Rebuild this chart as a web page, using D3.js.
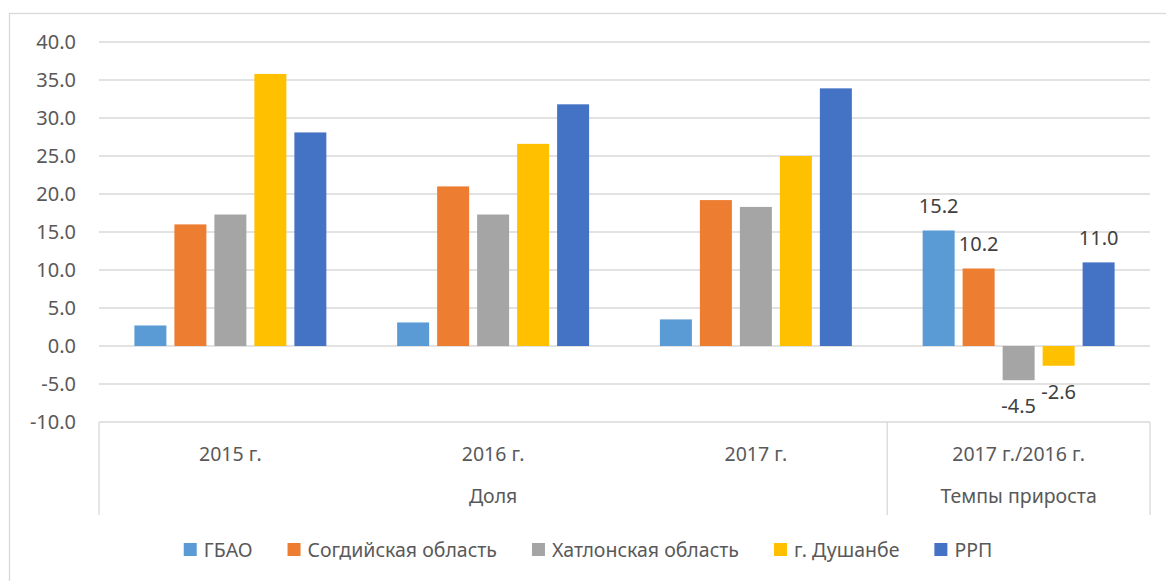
<!DOCTYPE html>
<html>
<head>
<meta charset="utf-8">
<script src="https://cdn.jsdelivr.net/npm/d3@7"></script>
<style>
    body { margin: 0; background: #fff; }
    svg text { font-family: "Noto Sans", sans-serif; }
</style>
</head>
<body>
<div id="chart"></div>
<script>

// Categories (first level) and their groups (second level).
const categories = ["2015 г.", "2016 г.", "2017 г.", "2017 г./2016 г."];
const groups = [
    {name: "Доля", from: 0, to: 2},
    {name: "Темпы прироста", from: 3, to: 3}
];

// Series.
const seriesNames = ["ГБАО", "Согдийская область", "Хатлонская область", "г. Душанбе", "РРП"];
const seriesColors = ["#5B9BD5", "#ED7D31", "#A5A5A5", "#FFC000", "#4472C4"];

// Values per series, in order of categories.
const gbao     = [2.7, 3.1, 3.5, 15.2];
const sogd     = [16.0, 21.0, 19.2, 10.2];
const khatlon  = [17.3, 17.3, 18.3, -4.5];
const dushanbe = [35.8, 26.6, 25.0, -2.6];
const rrp      = [28.1, 31.8, 33.9, 11.0];
const seriesValues = [gbao, sogd, khatlon, dushanbe, rrp];

// Only the last category has data labels.
const labelledCategory = 3;

const yTicks = [-10, -5, 0, 5, 10, 15, 20, 25, 30, 35, 40];

// Excel writes a plain hyphen, not the unicode minus d3 uses.
const fmt = d3.formatLocale({decimal: ".", thousands: ",", grouping: [3],
                             currency: ["", ""], minus: "-"}).format(".1f");

// Chart dimensions.
const width = 1166, height = 581;
const margin = {top: 42, right: 16, bottom: 159, left: 99};

const svg = d3.select("#chart")
    .append("svg")
        .attr("width", width)
        .attr("height", height);

// Chart frame
svg.append("rect")
    .attr("x", 9.5).attr("y", 13.5)
    .attr("width", 1170).attr("height", 600)
    .attr("fill", "none")
    .attr("stroke", "#D9D9D9")
    .attr("stroke-width", 1.3);

const plotRight = width - margin.right;
const plotBottom = height - margin.bottom;

// Scales
const x = d3.scaleBand()
    .domain(d3.range(categories.length))
    .range([margin.left, plotRight]);

const xSub = d3.scaleBand()
    .domain(d3.range(seriesNames.length))
    .range([0, x.bandwidth()])
    .paddingInner(0.2)
    .paddingOuter(0.885);

const y = d3.scaleLinear()
    .domain([-10, 40])
    .range([plotBottom, margin.top]);

// Gridlines (the -10 one acts as the category axis line)
svg.append("g")
    .attr("class", "grid")
    .selectAll("line")
    .data(yTicks)
    .enter()
    .append("line")
        .attr("x1", margin.left).attr("x2", plotRight)
        .attr("y1", d => y(d)).attr("y2", d => y(d))
        .attr("stroke", "#D9D9D9")
        .attr("stroke-width", 1.3);

// Y axis labels
const yAxis = d3.axisLeft(y)
    .tickValues(yTicks)
    .tickFormat(fmt)
    .tickSize(0)
    .tickPadding(23);

svg.append("g")
    .attr("class", "y axis")
    .attr("transform", "translate(" + margin.left + ",0)")
    .call(yAxis)
    .call(g => g.select(".domain").remove())
    .call(g => g.selectAll("text")
        .attr("fill", "#595959")
        .style("font-size", "20px")
        .style("font-family", "'Noto Sans', sans-serif"));

// Bars
const series = svg.selectAll("g.series")
    .data(seriesValues)
    .enter()
    .append("g")
        .attr("class", "series")
        .attr("fill", (d, i) => seriesColors[i]);

series.each(function(vals, si) {
    d3.select(this).selectAll("rect")
        .data(vals)
        .enter()
        .append("rect")
            .attr("x", (d, ci) => x(ci) + xSub(si))
            .attr("width", xSub.bandwidth())
            .attr("y", d => y(Math.max(0, d)))
            .attr("height", d => Math.abs(y(d) - y(0)));
});

// Data labels on the growth category
seriesValues.forEach(function(vals, si) {
    let v = vals[labelledCategory];
    svg.append("text")
        .attr("x", x(labelledCategory) + xSub(si) + xSub.bandwidth() / 2)
        .attr("y", v >= 0 ? y(v) - 17 : y(v) + 33)
        .attr("text-anchor", "middle")
        .attr("fill", "#404040")
        .style("font-size", "20px")
        .text(fmt(v));
});

// Multi-level category axis
const axisG = svg.append("g").attr("class", "x axis");
const sepBottom = 515;

axisG.selectAll("text.cat")
    .data(categories)
    .enter()
    .append("text")
        .attr("class", "cat")
        .attr("x", (d, i) => x(i) + x.bandwidth() / 2)
        .attr("y", 461)
        .attr("text-anchor", "middle")
        .attr("fill", "#595959")
        .style("font-size", "19.5px")
        .text(d => d);

axisG.selectAll("text.grp")
    .data(groups)
    .enter()
    .append("text")
        .attr("class", "grp")
        .attr("x", d => (x(d.from) + x(d.to) + x.bandwidth()) / 2)
        .attr("y", 503)
        .attr("text-anchor", "middle")
        .attr("fill", "#595959")
        .style("font-size", "19.5px")
        .text(d => d.name);

// Group separators
const sepX = [x(0)].concat(groups.map(g => x(g.to) + x.bandwidth()));
axisG.selectAll("line.sep")
    .data(sepX)
    .enter()
    .append("line")
        .attr("class", "sep")
        .attr("x1", d => d).attr("x2", d => d)
        .attr("y1", plotBottom).attr("y2", sepBottom)
        .attr("stroke", "#D9D9D9")
        .attr("stroke-width", 1.3);

// Legend
const legend = svg.append("g").attr("class", "legend");
const items = legend.selectAll("g.item")
    .data(seriesNames)
    .enter()
    .append("g")
        .attr("class", "item");

items.append("rect")
    .attr("width", 13).attr("height", 13)
    .attr("y", 543)
    .attr("fill", (d, i) => seriesColors[i]);

items.append("text")
    .attr("x", 20)
    .attr("y", 557)
    .attr("fill", "#595959")
    .style("font-size", "19.5px")
    .text(d => d);

// Lay the legend items out in a row, centred on the chart.
let offset = 0;
let positions = [];
items.each(function() {
    let w = 20 + d3.select(this).select("text").node().getComputedTextLength();
    positions.push(offset);
    offset += w + 35;
});
let total = offset - 35;
let startX = 588 - total / 2;
items.attr("transform", (d, i) => "translate(" + (startX + positions[i]) + ",0)");

</script>
</body>
</html>
